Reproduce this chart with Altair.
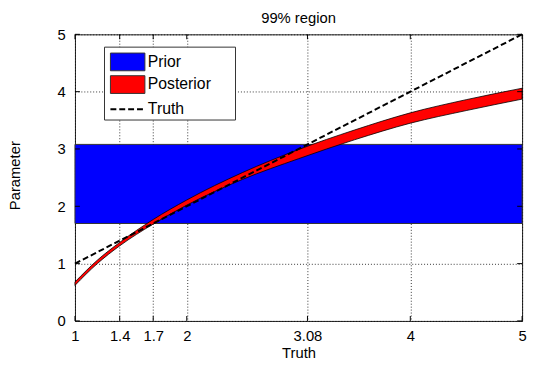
import altair as alt
import pandas as pd

# ---- data ----
x_ticks = [1, 1.4, 1.7, 2, 3.08, 4, 5]
y_ticks = [0, 1, 2, 3, 4, 5]

post_x = [1, 1.2, 1.4, 1.7, 2, 2.5, 3, 3.5, 4, 4.5, 5]
post_lower = [0.62, 1.00, 1.31, 1.69, 2.02, 2.47, 2.83, 3.16, 3.45, 3.67, 3.87]
post_upper = [0.68, 1.06, 1.37, 1.77, 2.11, 2.59, 2.99, 3.33, 3.63, 3.86, 4.06]

truth_x = [1, 5]
truth_y = [1, 5]

prior_x = [1, 5]
prior_lower = [1.70, 1.70]
prior_upper = [3.08, 3.08]

legend_labels = ["Prior", "Posterior", "Truth"]

FONT = "Liberation Sans"
W, H = 454, 291

post_df = pd.DataFrame({"x": post_x, "lo": post_lower, "hi": post_upper})
truth_df = pd.DataFrame({"x": truth_x, "y": truth_y})
prior_df = pd.DataFrame({"x": prior_x[:1], "x2": prior_x[1:], "lo": prior_lower[:1], "hi": prior_upper[:1]})
xt_df = pd.DataFrame({"v": x_ticks})
yt_df = pd.DataFrame({"v": y_ticks})
one = pd.DataFrame({"a": [0]})

xscale = alt.Scale(domain=[1, 5], nice=False, zero=False)
yscale = alt.Scale(domain=[0, 5], nice=False, zero=False)

xaxis = alt.Axis(values=x_ticks, labelExpr="'' + datum.value", grid=True, ticks=False,
                 domain=False, labelFlush=False, labelPadding=8, labelFontSize=15,
                 labelFont=FONT, labelColor="black", title="Truth", titleFont=FONT,
                 titleFontSize=15, titleFontWeight="normal", titleColor="black",
                 titleY=37, titleBaseline="alphabetic",
                 gridColor="black", gridDash=[1, 2], gridOpacity=0.8, gridWidth=1)
yaxis = alt.Axis(values=y_ticks, labelExpr="'' + datum.value", grid=True, ticks=False,
                 domain=False, labelFlush=False, labelPadding=10, labelFontSize=15,
                 labelFont=FONT, labelColor="black", title="Parameter", titleFont=FONT,
                 titleFontSize=15, titleFontWeight="normal", titleColor="black",
                 titleX=-56, titleY=143, titleAngle=270, titleBaseline="alphabetic",
                 gridColor="black", gridDash=[1, 2], gridOpacity=0.8, gridWidth=1)

prior = alt.Chart(prior_df).mark_rect(color="#0000FF", stroke="#333333", strokeWidth=1).encode(
    x=alt.X("x:Q", scale=xscale, axis=xaxis), x2="x2:Q",
    y=alt.Y("lo:Q", scale=yscale, axis=yaxis), y2="hi:Q")

post = alt.Chart(post_df).mark_area(color="#FF0000", stroke="black", strokeWidth=0.8,
                                    interpolate="monotone").encode(
    x=alt.X("x:Q", scale=xscale), y=alt.Y("lo:Q", scale=yscale), y2="hi:Q")

truth = alt.Chart(truth_df).mark_line(color="black", strokeWidth=2, strokeDash=[6, 3]).encode(
    x=alt.X("x:Q", scale=xscale), y=alt.Y("y:Q", scale=yscale))

tick_style = dict(color="black", strokeWidth=1)
xt_bot = alt.Chart(xt_df).mark_rule(**tick_style).encode(
    x=alt.X("v:Q", scale=xscale), y=alt.value(H), y2=alt.value(H - 5))
xt_top = alt.Chart(xt_df).mark_rule(**tick_style).encode(
    x=alt.X("v:Q", scale=xscale), y=alt.value(0), y2=alt.value(5))
yt_left = alt.Chart(yt_df).mark_rule(**tick_style).encode(
    y=alt.Y("v:Q", scale=yscale), x=alt.value(0), x2=alt.value(5))
yt_right = alt.Chart(yt_df).mark_rule(**tick_style).encode(
    y=alt.Y("v:Q", scale=yscale), x=alt.value(W), x2=alt.value(W - 5))

# ---- legend ----
leg_box = alt.Chart(one).mark_rect(fill="white", stroke="#333333", strokeWidth=1).encode(
    x=alt.value(30), x2=alt.value(163), y=alt.value(13), y2=alt.value(87))
leg_prior = alt.Chart(one).mark_rect(fill="#0000FF", stroke="#333333", strokeWidth=1).encode(
    x=alt.value(36), x2=alt.value(71), y=alt.value(19), y2=alt.value(37))
leg_post = alt.Chart(one).mark_rect(fill="#FF0000", stroke="#333333", strokeWidth=1).encode(
    x=alt.value(36), x2=alt.value(71), y=alt.value(42), y2=alt.value(60))
leg_truth = alt.Chart(one).mark_rule(color="black", strokeWidth=2, strokeDash=[6, 3]).encode(
    x=alt.value(36), x2=alt.value(71), y=alt.value(76))
text_style = dict(font=FONT, fontSize=16, color="black", align="left", baseline="middle")
leg_t1 = alt.Chart(one).mark_text(**text_style).encode(
    x=alt.value(74), y=alt.value(28), text=alt.value(legend_labels[0]))
leg_t2 = alt.Chart(one).mark_text(**text_style).encode(
    x=alt.value(74), y=alt.value(51), text=alt.value(legend_labels[1]))
leg_t3 = alt.Chart(one).mark_text(**text_style).encode(
    x=alt.value(74), y=alt.value(76), text=alt.value(legend_labels[2]))

chart = alt.layer(
    prior, post, truth, xt_bot, xt_top, yt_left, yt_right,
    leg_box, leg_prior, leg_post, leg_truth, leg_t1, leg_t2, leg_t3
).properties(
    width=W, height=H,
    title=alt.TitleParams("99% region", font=FONT, fontSize=15, fontWeight="normal",
                          color="black", offset=2, frame="group"),
    autosize=alt.AutoSizeParams(type="none"),
    padding={"left": 68, "top": 24, "right": 6, "bottom": 42},
    background="white",
).configure_view(stroke="#222222", strokeWidth=1)

chart.save("out.html", embed_options={"renderer": "svg", "actions": False})
